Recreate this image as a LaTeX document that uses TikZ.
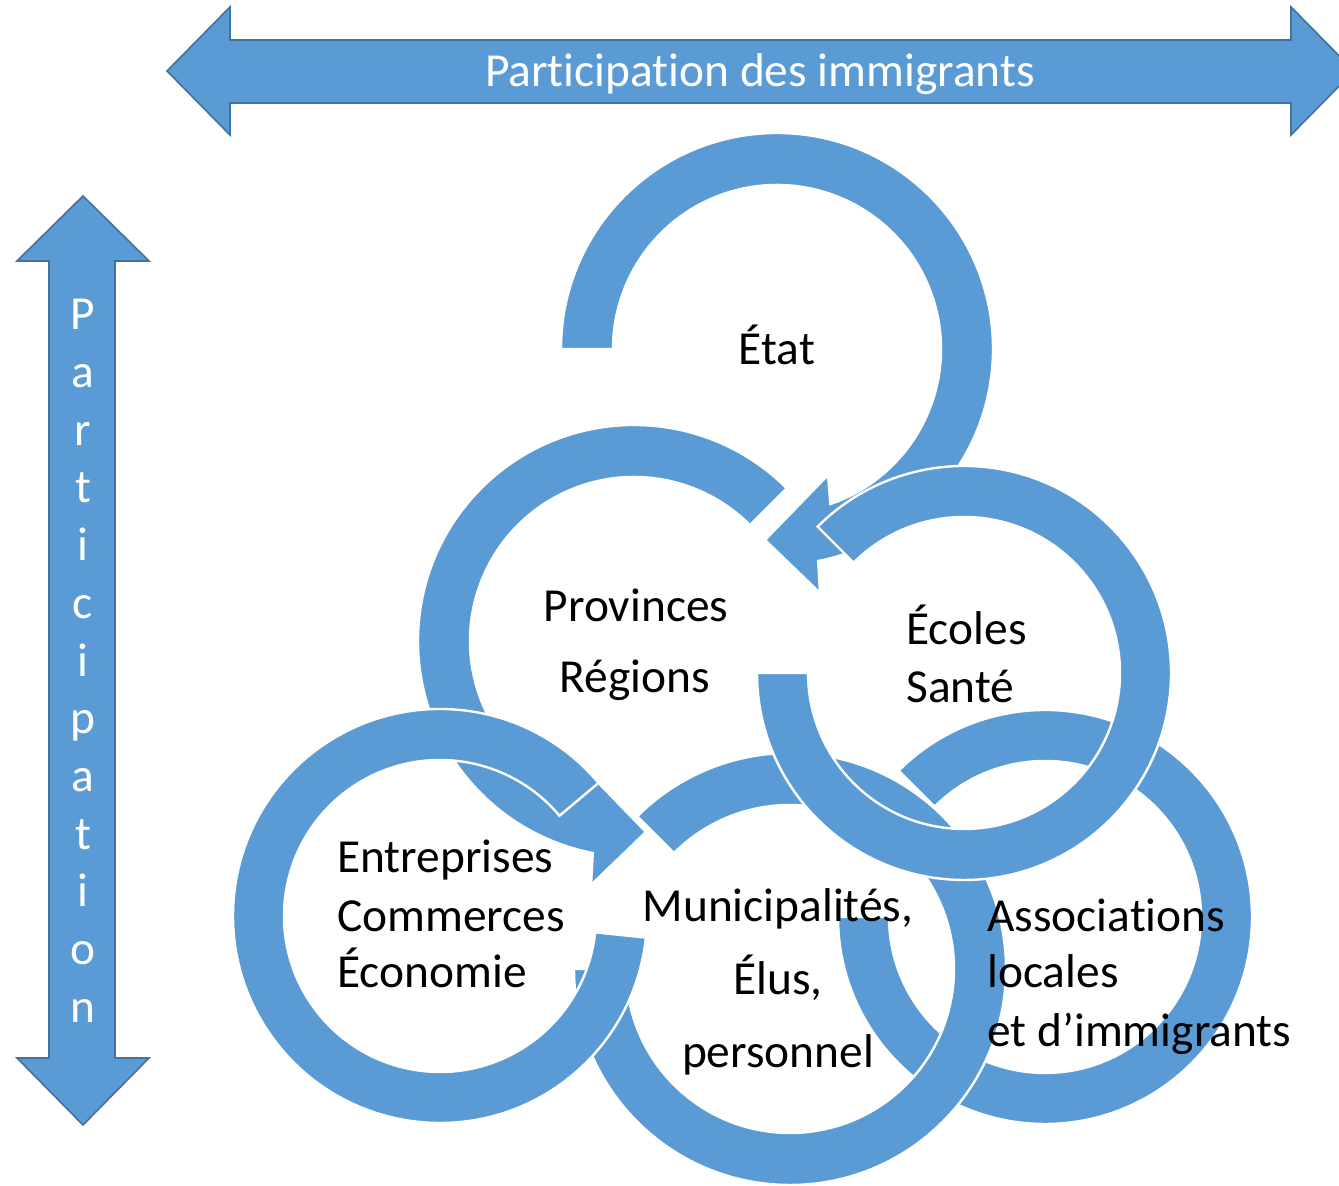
\documentclass[tikz,border=0pt]{standalone}
\usepackage{fontspec}
\setmainfont{Carlito}[Ligatures=NoCommon]
\usetikzlibrary{calc}
\definecolor{ringblue}{HTML}{5B9BD5}
\definecolor{rimblue}{HTML}{41719C}
\tikzset{
  band/.style={fill=ringblue,draw=white,line width=1.2pt,line join=miter},
  bigarrow/.style={fill=ringblue,draw=rimblue,line width=0.8pt},
  lbl/.style={font=\fontsize{23.7}{28}\selectfont,inner sep=0pt},
  wlbl/.style={lbl,text=white}
}
\newcommand\ringarc[5]{%
  \draw[band] ($(#1)+(#4:#2)$) arc[start angle=#4,end angle=#5,radius=#2]
    -- ($(#1)+(#5:#3)$) arc[start angle=#5,end angle=#4,radius=#3] -- cycle;}
\begin{document}
\begin{tikzpicture}[x=0.5pt,y=0.5pt]
\useasboundingbox (0,0) rectangle (1339,1186);
\clip (0,0) rectangle (1339,1186);

\coordinate (etat) at (777,837);
\coordinate (prov) at (634,545);
\coordinate (ecol) at (964,513);
\coordinate (entr) at (440,270);
\coordinate (muni) at (790,217);
\coordinate (asso) at (1045,269);

\draw[bigarrow] (167,1115) -- (230,1179) -- (230,1146) -- (1291,1146) -- (1291,1179)
  -- (1354,1115) -- (1291,1051) -- (1291,1083) -- (230,1083) -- (230,1051) -- cycle;
\draw[bigarrow] (83,990) -- (149,925) -- (115,925) -- (115,128) -- (149,128)
  -- (83,61) -- (17,128) -- (49,128) -- (49,925) -- (17,925) -- cycle;

\ringarc{asso}{207}{156}{180}{495}
\draw[band] ($(etat)+(180:216)$) arc[start angle=180,end angle=-79,radius=216]
  -- ($(etat)+(43,-244)$) -- ($(etat)+(-12,-191)$) -- ($(etat)+(51,-126)$)
  -- ($(etat)+(-71:164)$) arc[start angle=-71,end angle=180,radius=164] -- cycle;
\draw[band] ($(prov)+(45:216)$) arc[start angle=45,end angle=259,radius=216]
  -- ($(prov)+(-43,-244)$) -- ($(prov)+(12,-191)$) -- ($(prov)+(-51,-126)$)
  -- ($(prov)+(251:164)$) arc[start angle=251,end angle=45,radius=164] -- cycle;
\ringarc{muni}{216}{164}{180}{495}
\ringarc{entr}{207}{156}{40}{354}
\ringarc{ecol}{207}{156}{180}{495}

\node[wlbl,anchor=base] (titre) at (760,1099) {Participation des immigrants};
\foreach \c [count=\i from 0] in {P,a,r,t,i,c,i,p,a,t,i,o,n}
  \node[wlbl,anchor=base] (v\i) at (83,{856-57.67*\i}) {\c};

\node[lbl,anchor=base] (t1) at (777,821) {État};
\node[lbl,anchor=base] (t2a) at (636,564) {Provinces};
\node[lbl,anchor=base] (t2b) at (635,493) {Régions};
\node[lbl,anchor=base west] (t3a) at (906,541) {Écoles};
\node[lbl,anchor=base west] (t3b) at (906,483) {Santé};
\node[lbl,anchor=base west] (t4a) at (337,313) {Entreprises};
\node[lbl,anchor=base west] (t4b) at (337,254) {Commerces};
\node[lbl,anchor=base west] (t4c) at (337,198) {Économie};
\node[lbl,anchor=base] (t5a) at (778,264) {Municipalités,};
\node[lbl,anchor=base] (t5b) at (778,191) {Élus,};
\node[lbl,anchor=base] (t5c) at (778,118) {personnel};
\node[lbl,anchor=base west] (t6a) at (987,254) {Associations};
\node[lbl,anchor=base west] (t6b) at (987,198) {locales};
\node[lbl,anchor=base west] (t6c) at (987,139) {et d’immigrants};
\end{tikzpicture}
\end{document}
